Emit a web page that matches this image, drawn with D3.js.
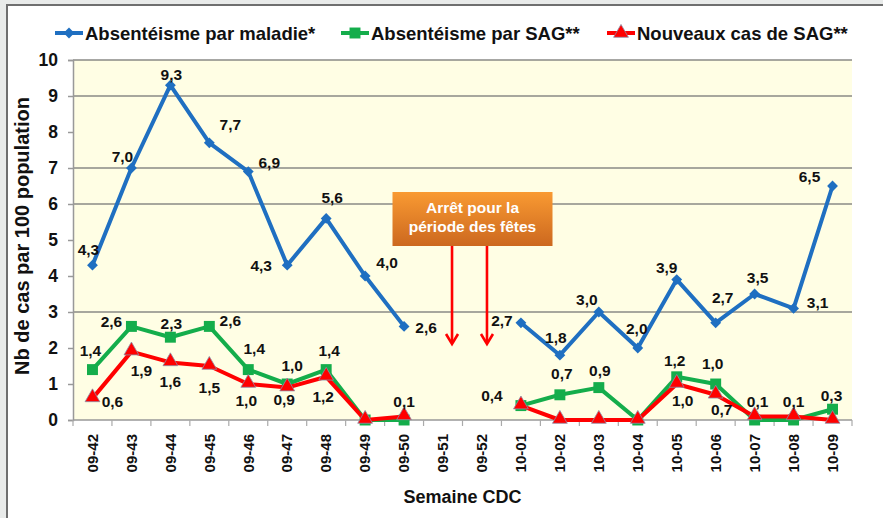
<!DOCTYPE html>
<html>
<head>
<meta charset="utf-8">
<script src="https://cdn.jsdelivr.net/npm/d3@7"></script>
<style>
  body { margin: 0; background: #fff; }
  text { font-family: "Liberation Sans", Arial, sans-serif; font-weight: bold; fill: #111; }
</style>
</head>
<body>
<div id="chart"></div>
<script>
/* DATA */
const weeks = ["09-42", "09-43", "09-44", "09-45", "09-46", "09-47", "09-48", "09-49", "09-50", "09-51",
  "09-52", "10-01", "10-02", "10-03", "10-04", "10-05", "10-06", "10-07", "10-08", "10-09"];

const absMaladie = [4.3, 7.0, 9.3, 7.7, 6.9, 4.3, 5.6, 4.0, 2.6, null, null, 2.7, 1.8, 3.0, 2.0, 3.9, 2.7, 3.5, 3.1, 6.5];
const absSag = [1.4, 2.6, 2.3, 2.6, 1.4, 1.0, 1.4, 0, 0, null, null, 0.4, 0.7, 0.9, 0, 1.2, 1.0, 0, 0, 0.3];
const nouveauxSag = [0.6, 1.9, 1.6, 1.5, 1.0, 0.9, 1.2, 0, 0.1, null, null, 0.4, 0, 0, 0, 1.0, 0.7, 0.1, 0.1, 0];

const yTicks = [0, 1, 2, 3, 4, 5, 6, 7, 8, 9, 10];
const gridValues = [3, 6, 7, 9, 10];   // only these lines show in the picture
const seriesNames = ["Absentéisme par maladie*", "Absentéisme par SAG**", "Nouveaux cas de SAG**"];
const noteLines = ["Arrêt pour la", "période des fêtes"];
const noteWeeks = ["09-51", "09-52"];

// label placement (dx, dy from the marker), null = no label
const blueLabelPos = [[-4,-16],[-9,-11],[1,-11],[21,-18],[21,-9],[-26,0],[6,-21],[22,-13],[22,1],null,null,
  [-19,-2],[-4,-18],[-12,-12],[-1,-19],[-10,-12],[7,-25],[3,-16],[24,-6],[-23,-9]];
const greenLabelPos = [[-2,-19],[-20,-5],[1,-14],[21,-6],[6,-21],[5,-18],[3,-19],null,null,null,null,
  [-29,-10],[2,-21],[1,-17],null,[-2,-16],[-3,-20],null,null,[-1,-14]];
const redLabelPos = [[20,3],[10,19],[0,19],[0,22],[-2,17],[-3,12],[-3,20],null,[0,-15],null,null,
  null,null,null,null,[6,17],[6,15],[3,-15],[0,-15],null];

/* CONSTANTS */
const width = 883, height = 518;
const margin = { top: 60, bottom: 98, left: 73, right: 31 };
const colors = ["#1F6FC1", "#14AD4B", "#FF0000"];

const svg = d3.select("#chart").append("svg")
  .attr("width", width)
  .attr("height", height);

// frame of the slide
svg.append("rect").attr("width", width).attr("height", height).attr("fill", "#e9ebea");
svg.append("rect").attr("x", 7).attr("y", 5).attr("width", width).attr("height", height).attr("fill", "#fff");
svg.append("path").attr("d", `M7,${height} V5 H${width}`).attr("fill", "none").attr("stroke", "#6f6f6f").attr("stroke-width", 2);

const xScale = d3.scaleBand()
  .domain(weeks)
  .range([margin.left, width - margin.right]);

const yScale = d3.scaleLinear()
  .domain([0, 10])
  .range([height - margin.bottom, margin.top]);

const cx = d => xScale(d) + xScale.bandwidth() / 2;

// plot background
svg.append("rect")
  .attr("x", margin.left).attr("y", margin.top)
  .attr("width", width - margin.right - margin.left)
  .attr("height", height - margin.bottom - margin.top)
  .attr("fill", "#FFFEE4");

svg.append("g")
  .selectAll("line")
  .data(gridValues)
  .join("line")
    .attr("x1", margin.left).attr("x2", width - margin.right)
    .attr("y1", d => yScale(d)).attr("y2", d => yScale(d))
    .attr("stroke", "#8a8a86").attr("stroke-width", 1.5);

// y axis
const yAxis = d3.axisLeft(yScale).tickValues(yTicks).tickSize(5).tickPadding(10).tickFormat(d3.format("d"));
const gy = svg.append("g")
  .attr("transform", `translate(${margin.left},0)`)
  .call(yAxis);
gy.select(".domain").attr("stroke", "#999").attr("stroke-width", 1.5);
gy.selectAll(".tick line").attr("stroke", "#999").attr("stroke-width", 1.5);
gy.selectAll(".tick text").attr("font-size", 17.5).attr("font-family", null);

// x axis: ticks between the weeks, labels rotated
const xBase = height - margin.bottom;
svg.append("line")
  .attr("x1", margin.left).attr("x2", width - margin.right)
  .attr("y1", xBase).attr("y2", xBase)
  .attr("stroke", "#999").attr("stroke-width", 1.5);

svg.append("g")
  .selectAll("line")
  .data(weeks.concat(["end"]))
  .join("line")
    .attr("x1", (d, i) => margin.left + i * xScale.bandwidth())
    .attr("x2", (d, i) => margin.left + i * xScale.bandwidth())
    .attr("y1", xBase).attr("y2", xBase + 6)
    .attr("stroke", "#aaa").attr("stroke-width", 1.2);

svg.append("g")
  .selectAll("text")
  .data(weeks)
  .join("text")
    .attr("transform", d => `translate(${cx(d)},${xBase + 14}) rotate(-90)`)
    .attr("text-anchor", "end")
    .attr("dy", "0.35em")
    .attr("font-size", 15)
    .text(d => d);

svg.append("text")
  .attr("x", (margin.left + width - margin.right) / 2)
  .attr("y", 503)
  .attr("text-anchor", "middle")
  .attr("font-size", 18)
  .text("Semaine CDC");

svg.append("text")
  .attr("transform", `translate(29,${(margin.top + xBase) / 2 - 4}) rotate(-90)`)
  .attr("text-anchor", "middle")
  .attr("font-size", 20)
  .text("Nb de cas par 100 population");

/* SERIES */
const line = d3.line()
  .defined(d => d[1] !== null)
  .x(d => cx(d[0]))
  .y(d => yScale(d[1]));

const symbols = [
  d3.symbol().type(d3.symbolDiamond2).size(75),
  d3.symbol().type(d3.symbolSquare).size(120),
  d3.symbol().type(d3.symbolTriangle).size(95)
];

const series = [absMaladie, absSag, nouveauxSag];
const labelPos = [blueLabelPos, greenLabelPos, redLabelPos];

series.forEach((vals, s) => {
  const pts = weeks.map((w, i) => [w, vals[i]]);
  svg.append("path")
    .datum(pts)
    .attr("fill", "none")
    .attr("stroke", colors[s])
    .attr("stroke-width", 4)
    .attr("stroke-linejoin", "round")
    .attr("d", line);

  svg.append("g")
    .selectAll("path")
    .data(pts.filter(d => d[1] !== null))
    .join("path")
      .attr("transform", d => `translate(${cx(d[0])},${yScale(d[1]) + (s === 2 ? -1 : 0)})`)
      .attr("d", symbols[s])
      .attr("fill", colors[s])
      .attr("stroke", s === 2 ? "#8a8fa8" : "none")
      .attr("stroke-width", 0.8);
});

// data labels drawn last so they sit on top
series.forEach((vals, s) => {
  svg.append("g")
    .selectAll("text")
    .data(weeks.map((w, i) => ({ w, v: vals[i], p: labelPos[s][i] })).filter(d => d.p && d.v !== null))
    .join("text")
      .attr("x", d => cx(d.w) + d.p[0])
      .attr("y", d => yScale(d.v) + d.p[1])
      .attr("dy", "0.35em")
      .attr("text-anchor", "middle")
      .attr("font-size", 15.5)
      .text(d => d3.format(".1f")(d.v).replace(".", ","));
});

/* ANNOTATION */
const grad = svg.append("defs").append("linearGradient")
  .attr("id", "orange").attr("x1", 0).attr("y1", 0).attr("x2", 0).attr("y2", 1);
grad.append("stop").attr("offset", "0%").attr("stop-color", "#F99A32");
grad.append("stop").attr("offset", "100%").attr("stop-color", "#CC681F");

const noteMid = (cx(noteWeeks[0]) + cx(noteWeeks[1])) / 2 + 10;
svg.append("rect")
  .attr("x", noteMid - 80).attr("y", 192)
  .attr("width", 160).attr("height", 54)
  .attr("fill", "url(#orange)");

svg.append("g")
  .selectAll("text")
  .data(noteLines)
  .join("text")
    .attr("x", noteMid)
    .attr("y", (d, i) => 213 + i * 19)
    .attr("text-anchor", "middle")
    .attr("font-size", 15.5)
    .style("fill", "#fff")
    .text(d => d);

const arrowX = (d, i) => cx(d) + (i === 0 ? 9 : 5);
const arrows = svg.append("g")
  .selectAll("g")
  .data(noteWeeks)
  .join("g")
    .attr("transform", (d, i) => `translate(${arrowX(d, i)},0)`)
    .attr("fill", "none")
    .attr("stroke", "#FF0000")
    .attr("stroke-width", 2.6);
arrows.append("line").attr("y1", 246).attr("y2", 343);
arrows.append("path").attr("d", "M-6,334 L0,344 L6,334");

/* LEGEND */
const legendX = [55, 341, 607];
const legend = svg.append("g")
  .selectAll("g")
  .data(seriesNames)
  .join("g")
    .attr("transform", (d, i) => `translate(${legendX[i]},33)`);

legend.append("line")
  .attr("x1", 0).attr("x2", 28)
  .attr("stroke", (d, i) => colors[i]).attr("stroke-width", 4);
legend.append("path")
  .attr("transform", "translate(14,0)")
  .attr("d", (d, i) => symbols[i]())
  .attr("fill", (d, i) => colors[i])
  .attr("stroke", (d, i) => i === 2 ? "#8a8fa8" : "none")
  .attr("stroke-width", 0.8);
legend.append("text")
  .attr("x", 30)
  .attr("dy", "0.36em")
  .attr("font-size", 18.5)
  .text(d => d);
</script>
</body>
</html>
